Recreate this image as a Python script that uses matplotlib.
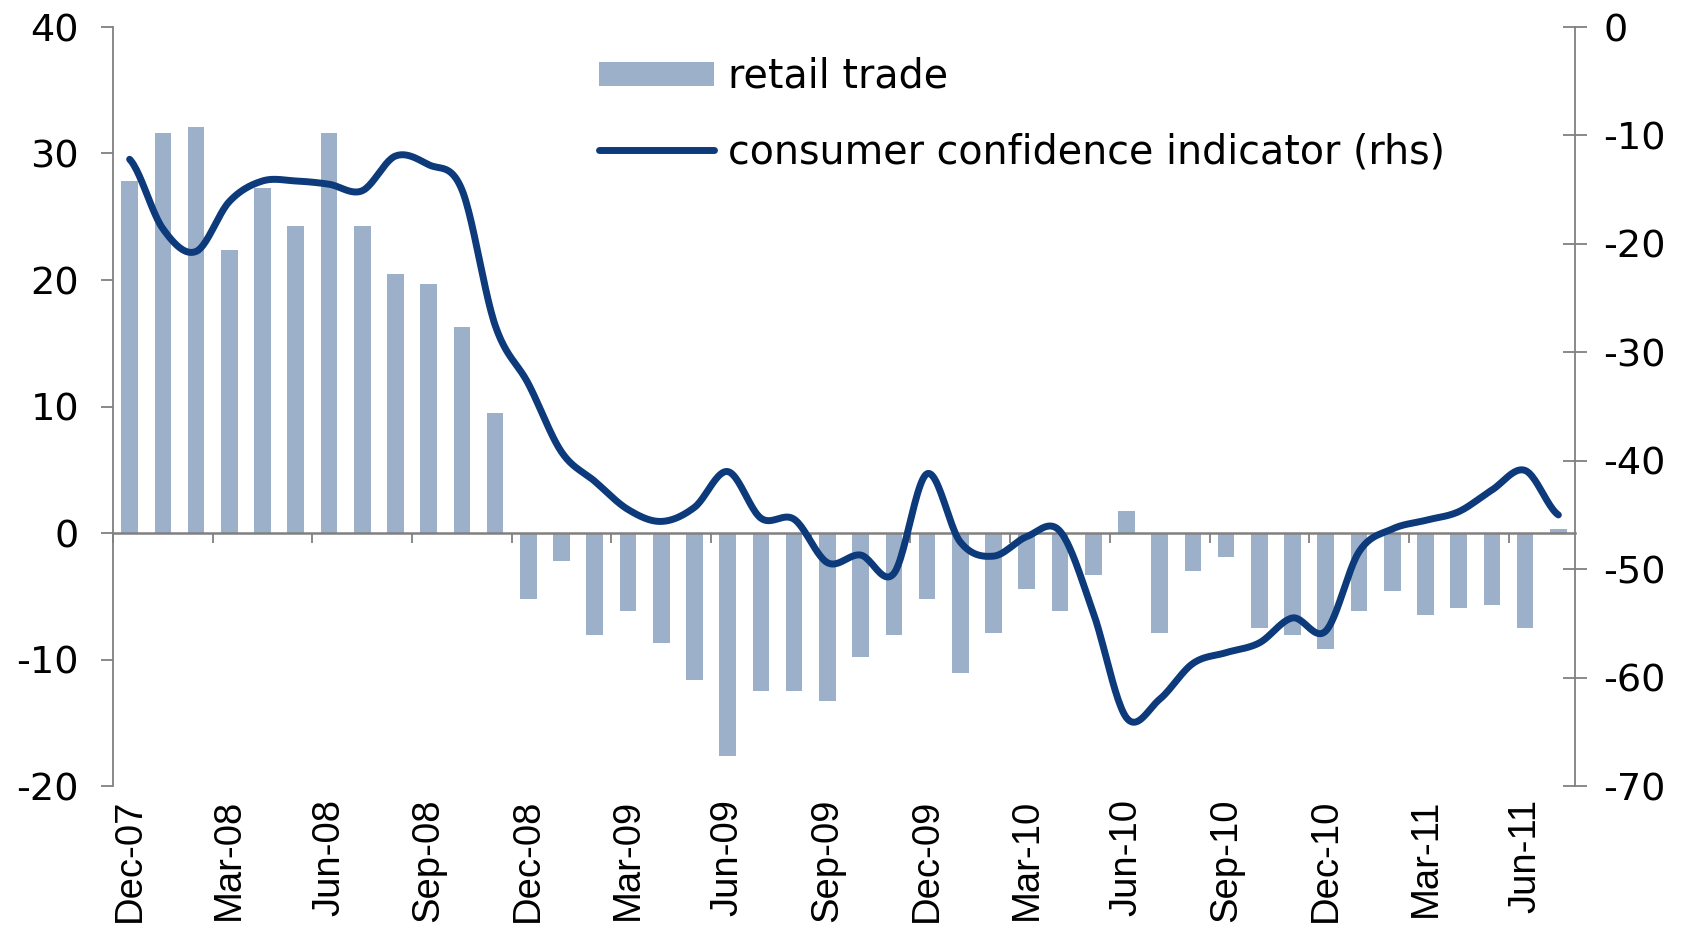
import numpy as np
import matplotlib
matplotlib.use("Agg")
import matplotlib.pyplot as plt
from matplotlib.patches import Patch
from matplotlib.lines import Line2D

# ---------------- data ----------------
months = ["Dec-07", "Jan-08", "Feb-08", "Mar-08", "Apr-08", "May-08", "Jun-08", "Jul-08",
          "Aug-08", "Sep-08", "Oct-08", "Nov-08", "Dec-08", "Jan-09", "Feb-09", "Mar-09",
          "Apr-09", "May-09", "Jun-09", "Jul-09", "Aug-09", "Sep-09", "Oct-09", "Nov-09",
          "Dec-09", "Jan-10", "Feb-10", "Mar-10", "Apr-10", "May-10", "Jun-10", "Jul-10",
          "Aug-10", "Sep-10", "Oct-10", "Nov-10", "Dec-10", "Jan-11", "Feb-11", "Mar-11",
          "Apr-11", "May-11", "Jun-11", "Jul-11"]

retail_trade = [27.8, 31.6, 32.1, 22.4, 27.3, 24.3, 31.6, 24.3, 20.5, 19.7, 16.3, 9.5,
                -5.2, -2.2, -8.1, -6.2, -8.7, -11.6, -17.6, -12.5, -12.5, -13.3,
                -9.8, -8.1, -5.2, -11.1, -7.9, -4.4, -6.2, -3.3, 1.7, -7.9, -3.0,
                -1.9, -7.5, -8.1, -9.2, -6.2, -4.6, -6.5, -5.9, -5.7, -7.5, 0.3]

consumer_confidence = [-12.2, -18.6, -20.7, -16.1, -14.2, -14.2, -14.5, -15.1, -11.9, -12.7,
                       -15.0, -27.5, -32.9, -39.2, -41.9, -44.5, -45.6, -44.3, -41.0, -45.3,
                       -45.4, -49.4, -48.7, -50.4, -41.2, -47.5, -48.8, -47.0, -46.5, -54.0,
                       -63.7, -62.0, -58.7, -57.7, -56.8, -54.5, -55.7, -48.4, -46.3, -45.5,
                       -44.7, -42.7, -40.9, -45.0]

label_step = 3
left_ticks = [40, 30, 20, 10, 0, -10, -20]
right_ticks = [0, -10, -20, -30, -40, -50, -60, -70]

# ---------------- style ----------------
BAR_COLOR = "#9cb0ca"
LINE_COLOR = "#0c3a7a"
AXIS_COLOR = "#808080"
XFONT = ["Liberation Sans", "DejaVu Sans"]
YFONT = ["DejaVu Sans"]


def smooth_curve(y, n=24):
    """Excel-like smoothed line (Catmull-Rom through the monthly points)."""
    y = np.asarray(y, float)
    p = np.concatenate([[y[0]], y, [y[-1]]])
    xs, ys = [], []
    for i in range(len(y) - 1):
        p0, p1, p2, p3 = p[i], p[i + 1], p[i + 2], p[i + 3]
        t = np.linspace(0, 1, n, endpoint=False)
        c1 = p1 + (p2 - p0) / 6.0
        c2 = p2 - (p3 - p1) / 6.0
        seg = ((1 - t) ** 3) * p1 + 3 * ((1 - t) ** 2) * t * c1 + 3 * (1 - t) * t ** 2 * c2 + t ** 3 * p2
        xs.append(i + t)
        ys.append(seg)
    xs.append([len(y) - 1])
    ys.append([y[-1]])
    return np.concatenate(xs), np.concatenate(ys)


fig = plt.figure(figsize=(16.88, 9.30), dpi=100)
ax = fig.add_axes([113 / 1688, 1 - 786 / 930, (1575 - 113) / 1688, (786 - 27) / 930])
ax2 = ax.twinx()

x = np.arange(len(months))
ax.bar(x, retail_trade, width=0.5, color=BAR_COLOR, zorder=2)
ax.set_xlim(-0.5, len(months) - 0.5)
ax.set_ylim(-20, 40)
ax.set_yticks(left_ticks)
ax.set_yticklabels([str(v) for v in left_ticks], fontfamily=YFONT, fontsize=27.5)

# spines
for s in ["top", "right"]:
    ax.spines[s].set_visible(False)
ax.spines["left"].set_color(AXIS_COLOR)
ax.spines["left"].set_linewidth(1.3)
ax.spines["bottom"].set_position(("data", 0))
ax.spines["bottom"].set_color(AXIS_COLOR)
ax.spines["bottom"].set_linewidth(1.8)
ax.spines["bottom"].set_zorder(3)
ax.tick_params(axis="y", direction="out", length=8.5, width=1.3, color=AXIS_COLOR, pad=16)

# boundary ticks on zero line
ax.set_xticks(np.arange(-0.5, len(months) - 0.5, label_step))
ax.tick_params(axis="x", direction="out", length=7, width=1.3, color=AXIS_COLOR, labelbottom=False)

# category labels at bottom
sec = ax.secondary_xaxis("bottom")
sec.set_xticks(x[::label_step])
sec.set_xticklabels(months[::label_step], rotation=90, fontfamily=XFONT, fontsize=27.5)
sec.tick_params(length=0, pad=9)
sec.spines["bottom"].set_visible(False)

# right axis line
xs, ys = smooth_curve(consumer_confidence)
ax2.plot(xs, ys, color=LINE_COLOR, lw=5, solid_capstyle="round", solid_joinstyle="round", zorder=4)
ax2.set_ylim(-70, 0)
ax2.set_yticks(right_ticks)
ax2.set_yticklabels([str(v) for v in right_ticks], fontfamily=YFONT, fontsize=27.5)
for s in ["top", "left", "bottom"]:
    ax2.spines[s].set_visible(False)
ax2.spines["right"].set_color(AXIS_COLOR)
ax2.spines["right"].set_linewidth(1.3)
ax2.tick_params(axis="y", direction="inout", length=17, width=1.3, color=AXIS_COLOR, pad=12)

handles = [Patch(facecolor=BAR_COLOR, edgecolor="none"),
           Line2D([0], [0], color=LINE_COLOR, lw=5, solid_capstyle="round")]
labels = ["retail trade", "consumer confidence indicator (rhs)"]
leg = fig.legend(handles, labels, loc="upper left", bbox_to_anchor=(599 / 1688, 1 - 57 / 930),
                 frameon=False, borderpad=0, borderaxespad=0, handlelength=2.9,
                 handleheight=0.58, handletextpad=0.35, labelspacing=0.89,
                 prop={"family": "DejaVu Sans", "size": 28.5})

fig.savefig("out.png", dpi=100)
